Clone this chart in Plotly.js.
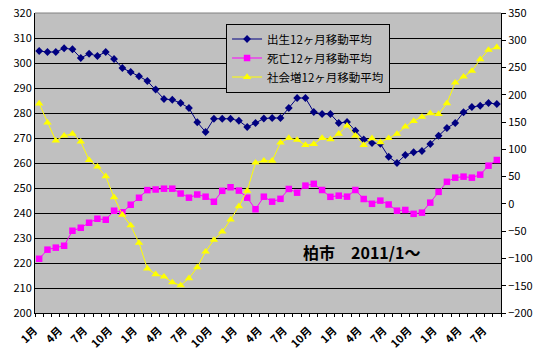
<!DOCTYPE html>
<html>
<head>
<meta charset="utf-8">
<script src="https://cdn.plot.ly/plotly-3.0.1.min.js"></script>
<style>html,body{margin:0;padding:0;background:#fff;}</style>
</head>
<body>
<div id="chart" style="width:540px;height:353px;"></div>
<script>
// Months: 2011/1 .. 2015/8 (56 months)
const months = [
  "2011/1","2011/2","2011/3","2011/4","2011/5","2011/6","2011/7","2011/8","2011/9","2011/10","2011/11","2011/12",
  "2012/1","2012/2","2012/3","2012/4","2012/5","2012/6","2012/7","2012/8","2012/9","2012/10","2012/11","2012/12",
  "2013/1","2013/2","2013/3","2013/4","2013/5","2013/6","2013/7","2013/8","2013/9","2013/10","2013/11","2013/12",
  "2014/1","2014/2","2014/3","2014/4","2014/5","2014/6","2014/7","2014/8","2014/9","2014/10","2014/11","2014/12",
  "2015/1","2015/2","2015/3","2015/4","2015/5","2015/6","2015/7","2015/8"
];
const tickLabels = ["1月","4月","7月","10月","1月","4月","7月","10月","1月","4月","7月","10月","1月","4月","7月","10月","1月","4月","7月"];

// 出生12ヶ月移動平均 (left axis)
const birth = [
  304.8,304.4,304.4,305.9,305.5,302.0,303.7,302.8,304.4,301.6,298.0,296.4,
  294.7,292.8,289.4,285.6,285.3,284.0,282.0,276.3,272.4,277.7,277.7,277.7,
  276.9,274.4,276.0,277.8,278.0,278.0,282.0,286.0,286.0,280.4,279.6,279.6,
  276.0,276.4,272.9,269.4,268.0,267.7,262.5,260.0,263.2,264.3,264.8,267.6,
  270.9,274.0,276.0,280.3,282.4,282.9,284.0,283.6
];
// 死亡12ヶ月移動平均 (right axis)
const death = [
  -100.6,-83.9,-80.2,-76.7,-49.2,-43.7,-34.5,-27.2,-29.0,-12.5,-15.3,-1.5,
  11.3,25.3,26.4,27.9,27.9,19.0,11.4,17.2,13.2,4.0,24.0,30.5,
  24.4,11.4,-9.8,13.2,4.1,9.3,27.4,20.6,33.5,36.8,25.5,13.0,
  15.1,13.3,25.5,9.0,0.2,6.0,-1.1,-12.4,-11.1,-18.2,-16.0,2.3,
  22.1,40.5,48.1,50.0,48.1,53.6,70.1,80.5
];
// 社会増12ヶ月移動平均 (right axis)
const social = [
  184,149,116,125,128.5,114,80.5,68.3,50.5,12,-20,-39.5,
  -71.5,-118.5,-129,-133.4,-144,-149.5,-136.4,-116.3,-87.5,-66,-51,-29,
  -4.5,24,75.6,79.3,79,112.3,120.8,117.2,108,109.8,120.8,118.5,
  128.5,143.5,125,108,120.2,113,120.5,128.2,141.5,152,159.5,166,
  164.8,184.4,222.3,233.3,243.7,265.1,282.2,287.1
];
const seriesNames = ["出生12ヶ月移動平均","死亡12ヶ月移動平均","社会増12ヶ月移動平均"];
const titleText = "柏市　2011/1～";

const xIdx = months.map((m, i) => i);
const tickVals = tickLabels.map((t, k) => k * 3);
const FONT = "'Noto Sans CJK JP', 'Noto Sans', sans-serif";

const traces = [
  {x: xIdx, y: birth, name: seriesNames[0], type: "scatter", mode: "lines+markers",
   line: {color: "#000080", width: 1}, marker: {symbol: "diamond", size: 6, color: "#000080"},
   text: months, yaxis: "y"},
  {x: xIdx, y: death, name: seriesNames[1], type: "scatter", mode: "lines+markers",
   line: {color: "#FF00FF", width: 1}, marker: {symbol: "square", size: 6.5, color: "#FF00FF"},
   text: months, yaxis: "y2"},
  {x: xIdx, y: social, name: seriesNames[2], type: "scatter", mode: "lines+markers",
   line: {color: "#FFFF00", width: 1}, marker: {symbol: "triangle-up", size: 7.5, color: "#FFFF00"},
   text: months, yaxis: "y2"}
];

const layout = {
  width: 540, height: 353,
  margin: {l: 35, r: 39, t: 13, b: 40, pad: 0},
  paper_bgcolor: "#ffffff",
  plot_bgcolor: "#C0C0C0",
  font: {family: FONT, size: 11, color: "#000"},
  showlegend: true,
  legend: {
    x: 0.41, y: 0.965, xanchor: "left", yanchor: "top",
    bgcolor: "#C0C0C0", bordercolor: "#000", borderwidth: 1,
    font: {family: FONT, size: 11.5, color: "#000"},
    tracegroupgap: 0, itemwidth: 30
  },
  xaxis: {
    type: "linear",
    range: [-0.5, 55.5], tickmode: "array", tickvals: tickVals, ticktext: tickLabels,
    tickangle: -45, automargin: false, showgrid: false, zeroline: false,
    showline: true, linecolor: "#000", linewidth: 1, ticks: "",
    ticklabelstandoff: 6, ticklabelshift: -5,
    tickfont: {family: FONT, size: 11, color: "#000", weight: "bold"},
    minor: {ticks: "outside", ticklen: 3, tickcolor: "#000", tickmode: "linear", tick0: -0.5, dtick: 1, showgrid: false}
  },
  yaxis: {
    range: [200, 320], dtick: 10, tick0: 200, showgrid: true, gridcolor: "#000", gridwidth: 1,
    zeroline: false, showline: true, linecolor: "#000", linewidth: 1, ticks: "",
    tickfont: {family: FONT, size: 11, color: "#000"}
  },
  yaxis2: {
    range: [-200, 350], dtick: 50, tick0: -200, overlaying: "y", side: "right",
    showgrid: false, zeroline: false, showline: true, linecolor: "#000", linewidth: 1,
    ticks: "outside", ticklen: 4, tickcolor: "#000",
    tickfont: {family: FONT, size: 11, color: "#000"}
  },
  shapes: [
    {type: "line", xref: "paper", yref: "paper", x0: 0, x1: 1, y0: 1, y1: 1, line: {color: "#808080", width: 1}}
  ],
  annotations: [
    {text: "<b>" + titleText + "</b>", xref: "paper", yref: "paper", x: 0.70, y: 0.203,
     xanchor: "center", yanchor: "middle", showarrow: false,
     font: {family: FONT, size: 16, color: "#000"}}
  ]
};

Plotly.newPlot("chart", traces, layout, {displayModeBar: false, staticPlot: true});
</script>
</body>
</html>
